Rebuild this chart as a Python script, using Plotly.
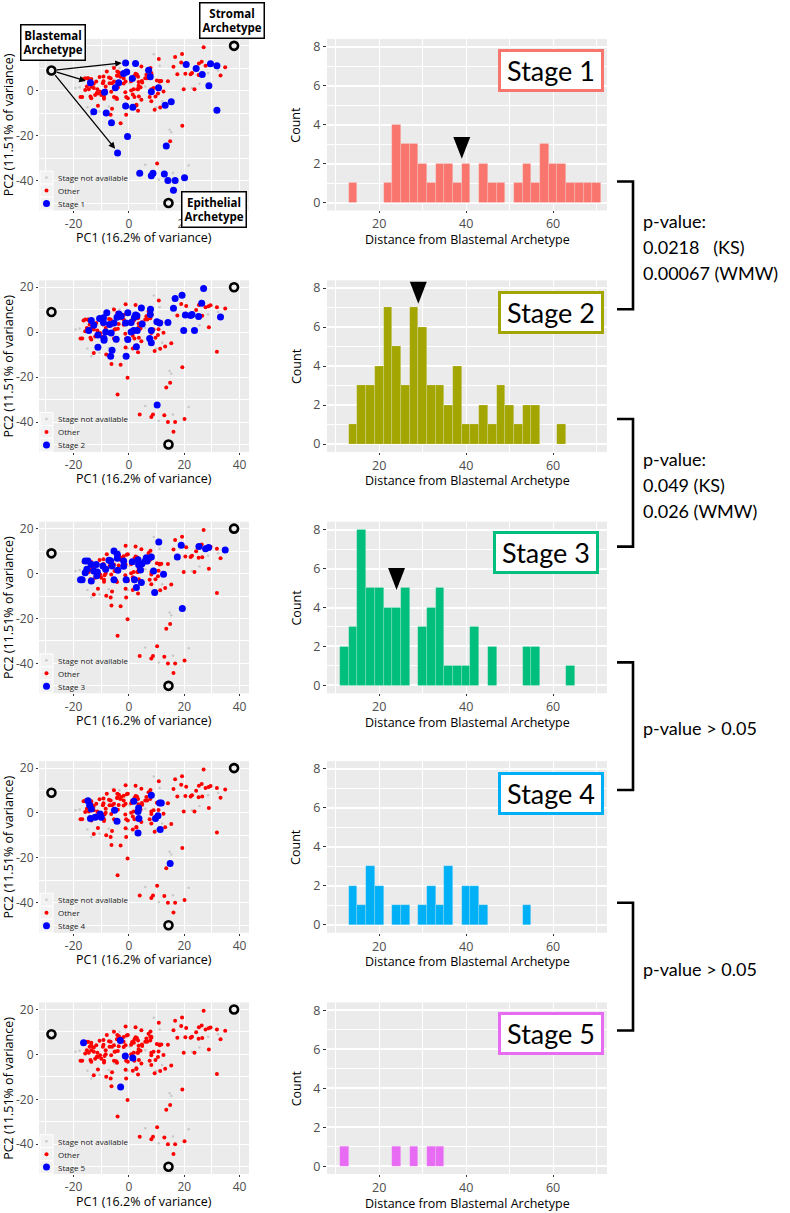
import plotly.graph_objects as go

W, H = 790, 1213
AX_FONT = "Open Sans"
LBL_FONT = "Lato"

# ---------------- data ----------------
# archetype positions (PC1, PC2): Blastemal, Stromal, Epithelial
arch_pc1 = [-28.0, 38.0, 14.3]
arch_pc2 = [9.0, 20.0, -50.0]

s1_pc1 = [-1.2, 2.4, -13.9, -8.8, -4.9, -3.7, -1.9, -0.8, 1.2, 7.1, 7.7, 8.1, 10.7, -1.2, 1.4, -12.7, -8.2,
          -6.3, -0.5, -4.1, 13.1, 15.3, 13.5, 3.9, 8.1, 8.7, 12.8, 14.1, 16.7, 16.1, 20.1, 20.7, 24.3, 26.5,
          29.5, 31.8, 28.9, 31.8]
s1_pc2 = [12.4, 12.1, 3.6, -0.7, 1.3, 3.6, 7.7, 8.4, 5.5, 9.2, 6.2, -0.4, 1.3, -6.8, -7.3, -9.3, -9.9,
          -14.2, -20.3, -27.7, -6.4, -4.9, -24.6, -36.7, -37.8, -36.7, -37.0, -40.0, -40.0, -44.3, -38.7, 11.7,
          9.9, 7.3, 12.0, 11.1, 2.2, -8.7]

s2_pc1 = [27.0, 19.2, 16.7, 26.3, 16.1, 7.8, 4.5, -8.0, -3.6, -2.8, -0.4, 2.4, 2.0, 2.9, 7.7, -13.6, -10.6,
          -9.2, -12.7, -9.2, -7.0, -5.4, -4.3, -1.2, 0.8, 4.8, 10.1, 11.1, 14.1, 20.4, 22.3, 22.8, 25.2, 33.1,
          19.8, 23.7, -14.5, -11.2, -9.0, -9.0, -8.4, -6.4, -4.6, -0.4, 0.8, 1.7, 3.0, 8.1, 7.5, 8.1, -11.2,
          2.7, -6.1, -6.6, -1.0, 10.2]
s2_pc2 = [19.4, 16.4, 15.0, 12.9, 10.7, 10.2, 10.8, 8.6, 8.1, 7.1, 8.6, 7.6, 6.7, 7.3, 7.9, 5.2, 6.1,
          6.4, 3.1, 4.3, 3.4, 4.1, 6.7, 4.1, 4.3, 3.7, 4.6, 4.1, 4.3, 7.6, 7.4, 7.9, 7.0, 6.8,
          0.7, 0.7, 0.7, -1.2, -2.8, -3.6, 0.1, -0.4, -3.1, -3.3, 0.1, 0.7, 0.7, 0.7, -2.8, -4.7, -6.7,
          -6.5, -8.0, -10.7, -10.7, -32.4]

s3_pc1 = [10.8, 18.9, 25.3, 27.7, 28.8, 34.8, 17.5, -5.4, -4.2, -6.6, -7.2, -4.2, -1.9, 1.2, 3.3, 4.7, 5.9,
          6.3, 6.6, 8.1, -15.8, -14.8, -13.6, -11.8, -9.4, -8.4, -6.1, -4.0, -1.9, -15.2, -15.8, -12.7,
          -11.4, -11.6, -16.9, -17.5, -13.6, -5.4, -1.0, 2.0, 2.7, 4.2, 3.5, 8.9, 4.5, 12.5, 9.3, 19.3]
s3_pc2 = [14.1, 12.6, 12.1, 11.1, 11.6, 10.5, 7.4, 10.1, 8.6, 5.6, 5.9, 6.8, 5.6, 5.3, 6.2, 4.4, 5.6,
          7.1, 5.6, 7.4, 5.6, 5.6, 4.1, 4.1, 3.4, 1.9, 3.4, 1.5, 3.3, 1.9, 0.4, 1.2,
          0.7, -1.0, -2.8, -2.8, -3.3, -2.8, -2.8, -2.8, -6.2, 1.6, 3.9, 1.2, -4.0, -0.3, -8.4, -15.6]

s4_pc1 = [-14.8, -14.2, -13.6, -13.9, -12.2, -10.4, -10.0, -5.2, -4.3, 1.8, 3.5, 3.3, 3.6, 3.3, 8.1, 9.6,
          10.5, 11.3, 11.1, 11.7, 14.9]
s4_pc2 = [5.5, 3.4, 1.8, -2.5, -1.9, -0.4, -1.9, 1.2, -3.7, 5.2, 2.2, 0.7, -2.5, -8.9, 7.9, -2.5,
          -1.2, -7.4, 4.4, 4.4, -22.5]

s5_pc1 = [-16.4, -3.1, -1.3, 1.4, -3.0]
s5_pc2 = [5.2, 6.2, -0.7, -1.6, -14.5]

na_pc1 = [-19.3, -17.8, -15.0, -13.6, -10.6, -7.3, -5.2, -0.4, 9.0, 11.1, 5.9, 15.3, 9.9, 14.7, 15.3, 5.9,
          10.8, 21.6, 22.8, 25.5, 28.6, 32.2, 33.4, -5.8, -3.4, 0.2, 3.3, -10.6, -16.6, 9.3, 12.0, 15.9]
na_pc2 = [1.2, 1.6, -7.3, -10.7, -9.2, -7.0, -4.0, -7.3, 16.3, 11.1, 1.9, -4.9, -7.3, -17.3, -18.5, -32.9,
          -39.6, -33.3, 1.2, 3.1, 7.9, 9.0, 7.1, 10.8, 10.1, 3.4, 2.7, -1.0, -2.5, -8.4, -4.7, -36.6]

# histogram: bins of width 2, centres 12..70
bin_centers = list(range(12, 71, 2))
s1_counts = [0, 1, 0, 0, 0, 1, 4, 3, 3, 2, 1, 2, 2, 1, 2, 0, 2, 1, 1, 0, 1, 2, 1, 3, 2, 2, 1, 1, 1, 1]
s2_counts = [0, 1, 3, 3, 4, 7, 5, 3, 7, 6, 3, 3, 2, 4, 1, 1, 2, 1, 3, 2, 1, 2, 2, 0, 0, 1, 0, 0, 0, 0]
s3_counts = [2, 3, 8, 5, 5, 4, 4, 5, 0, 3, 4, 5, 1, 1, 1, 3, 0, 2, 0, 0, 0, 2, 2, 0, 0, 0, 1, 0, 0, 0]
s4_counts = [0, 2, 1, 3, 2, 0, 1, 1, 0, 1, 2, 1, 3, 0, 2, 2, 1, 0, 0, 0, 0, 1, 0, 0, 0, 0, 0, 0, 0, 0]
s5_counts = [1, 0, 0, 0, 0, 0, 1, 0, 1, 0, 1, 1, 0, 0, 0, 0, 0, 0, 0, 0, 0, 0, 0, 0, 0, 0, 0, 0, 0, 0]

# median markers (distance, count level of tip) for stages 1-3
median_dist = [39.0, 29.0, 24.0]
median_tip = [2.25, 7.2, 4.9]

# arrows from the blastemal archetype (row 1)
arrow_pc1 = [-2.6, -15.6, -5.0]
arrow_pc2 = [12.4, 4.4, -25.8]

stage_names = ["Stage 1", "Stage 2", "Stage 3", "Stage 4", "Stage 5"]
stage_colors = ["#F8766D", "#A3A500", "#00BF7D", "#00B0F6", "#E76BF3"]
legend_labels = ["Stage not available", "Other"]

sc_xticks = [-20, 0, 20, 40]
sc_yticks = [-40, -20, 0, 20]
hi_xticks = [20, 40, 60]
hi_yticks = [0, 2, 4, 6, 8]

pvalue_lines = [["p-value:", "0.0218   (KS)", "0.00067 (WMW)"],
                ["p-value:", "0.049 (KS)", "0.026 (WMW)"],
                ["p-value > 0.05"],
                ["p-value > 0.05"]]

# ---------------- layout geometry (pixels) ----------------
row_top = [37, 279, 521, 761, 1003]
panel_h = 172
sc_x = (39, 249)
hi_x = (327, 607)
stage_box_center = [(551, 68.5), (551, 311), (546, 552), (551, 793), (551, 1034.5)]
bracket_top = [180, 418, 662, 903]
bracket_bot = [308, 546, 790, 1031]


def px(x):
    return x / W


def py(y):
    return 1 - y / H


stage_pc = [(s1_pc1, s1_pc2), (s2_pc1, s2_pc2), (s3_pc1, s3_pc2), (s4_pc1, s4_pc2), (s5_pc1, s5_pc2)]
stage_counts = [s1_counts, s2_counts, s3_counts, s4_counts, s5_counts]

fig = go.Figure()
layout = {}
annotations = []
shapes = []

grid_major = "white"
tickfont_sc = dict(family=AX_FONT, size=12, color="#4D4D4D")
tickfont_hi = dict(family=AX_FONT, size=12.5, color="#4D4D4D")

na_color, oth_color, st_color = "#C8C8C8", "#FF0000", "#0000FF"
na_size, oth_size, st_size = 2.5, 4, 7

for r in range(5):
    top = row_top[r]
    bot = top + panel_h
    dom_y = [py(bot), py(top)]
    sa, ha = 2 * r + 1, 2 * r + 2
    sx, sy = ("x" if sa == 1 else f"x{sa}"), ("y" if sa == 1 else f"y{sa}")
    hx, hy = f"x{ha}", f"y{ha}"

    # other stages -> "Other"
    oth_x, oth_y = [], []
    for k in range(5):
        if k != r:
            oth_x += stage_pc[k][0]
            oth_y += stage_pc[k][1]

    fig.add_trace(go.Scatter(x=na_pc1, y=na_pc2, mode="markers", name="Stage not available",
                             marker=dict(color=na_color, size=na_size), xaxis=sx, yaxis=sy))
    fig.add_trace(go.Scatter(x=oth_x, y=oth_y, mode="markers", name="Other",
                             marker=dict(color=oth_color, size=oth_size), xaxis=sx, yaxis=sy))
    fig.add_trace(go.Scatter(x=stage_pc[r][0], y=stage_pc[r][1], mode="markers", name=stage_names[r],
                             marker=dict(color=st_color, size=st_size), xaxis=sx, yaxis=sy))
    fig.add_trace(go.Scatter(x=arch_pc1, y=arch_pc2, mode="markers",
                             marker=dict(symbol="circle-open", color="black", size=8,
                                         line=dict(width=2.6, color="black")),
                             xaxis=sx, yaxis=sy))

    # histogram (pre-binned counts)
    fig.add_trace(go.Bar(x=bin_centers, y=stage_counts[r], width=2,
                         marker=dict(color=stage_colors[r], line=dict(width=0.6, color="rgba(255,255,255,0.3)")),
                         xaxis=hx, yaxis=hy))

    xa_key = "xaxis" if sa == 1 else f"xaxis{sa}"
    ya_key = "yaxis" if sa == 1 else f"yaxis{sa}"
    layout[xa_key] = dict(domain=[px(sc_x[0]), px(sc_x[1])], anchor=sy, range=[-32.5, 43.4],
                          tickvals=sc_xticks, ticktext=[str(v) for v in sc_xticks],
                          showgrid=True, gridcolor=grid_major, gridwidth=1.1, zeroline=False,
                          minor=dict(dtick=10, tick0=0, showgrid=True, gridcolor=grid_major, gridwidth=0.5),
                          ticks="outside", ticklen=2, tickcolor="#333333", tickfont=tickfont_sc)
    layout[ya_key] = dict(domain=dom_y, anchor=sx, range=[-53.3, 23.1],
                          tickvals=sc_yticks, ticktext=[str(v) for v in sc_yticks],
                          showgrid=True, gridcolor=grid_major, gridwidth=1.1, zeroline=False,
                          minor=dict(dtick=10, tick0=0, showgrid=True, gridcolor=grid_major, gridwidth=0.5),
                          ticks="outside", ticklen=2, tickcolor="#333333", tickfont=tickfont_sc)
    layout[f"xaxis{ha}"] = dict(domain=[px(hi_x[0]), px(hi_x[1])], anchor=hy, range=[8.0, 72.4],
                                tickvals=hi_xticks,
                                showgrid=True, gridcolor=grid_major, gridwidth=1.1, zeroline=False,
                                minor=dict(dtick=10, tick0=0, showgrid=True, gridcolor=grid_major, gridwidth=0.5),
                                ticks="outside", ticklen=2, tickcolor="#333333", tickfont=tickfont_hi)
    layout[f"yaxis{ha}"] = dict(domain=dom_y, anchor=hx, range=[-0.4, 8.4],
                                tickvals=hi_yticks,
                                showgrid=True, gridcolor=grid_major, gridwidth=1.6, zeroline=False,
                                minor=dict(dtick=1, tick0=0, showgrid=True, gridcolor=grid_major, gridwidth=0.6),
                                ticks="outside", ticklen=3, tickcolor="#333333", tickfont=tickfont_hi)

    # manual in-panel legend (ggplot style keys)
    entries = [(legend_labels[0], na_color, na_size), (legend_labels[1], oth_color, oth_size),
               (stage_names[r], st_color, st_size)]
    for i, (txt, col, sz) in enumerate(entries):
        yc = bot - 33 + 13 * i
        shapes.append(dict(type="rect", xref="paper", yref="paper", x0=px(40), x1=px(53),
                           y0=py(yc + 6.5), y1=py(yc - 6.5), fillcolor="#F2F2F2",
                           line=dict(color="white", width=1), layer="above"))
        shapes.append(dict(type="circle", xref="paper", yref="paper", xsizemode="pixel", ysizemode="pixel",
                           xanchor=px(46.5), yanchor=py(yc), x0=-sz / 2, x1=sz / 2, y0=-sz / 2, y1=sz / 2,
                           fillcolor=col, line=dict(width=0), layer="above"))
        annotations.append(dict(text=txt, x=px(56), y=py(yc), xref="paper", yref="paper", showarrow=False,
                                xanchor="left", yanchor="middle",
                                font=dict(family=AX_FONT, size=8, color="#1A1A1A")))

    # axis titles
    annotations.append(dict(text="PC2 (11.51% of variance)", x=px(8.5), y=py(top + panel_h / 2),
                            xref="paper", yref="paper", showarrow=False, textangle=-90,
                            xanchor="center", yanchor="middle", borderpad=0,
                            font=dict(family=AX_FONT, size=12.5, color="black")))
    annotations.append(dict(text="PC1 (16.2% of variance)", x=px(144), y=py(bot + 27),
                            xref="paper", yref="paper", showarrow=False, xanchor="center", yanchor="middle",
                            borderpad=0, font=dict(family=AX_FONT, size=12.5, color="black")))
    annotations.append(dict(text="Count", x=px(296), y=py(top + panel_h / 2),
                            xref="paper", yref="paper", showarrow=False, textangle=-90,
                            xanchor="center", yanchor="middle", borderpad=0,
                            font=dict(family=AX_FONT, size=12.5, color="black")))
    annotations.append(dict(text="Distance from Blastemal Archetype", x=px(467), y=py(bot + 29),
                            xref="paper", yref="paper", showarrow=False, xanchor="center", yanchor="middle",
                            borderpad=0, font=dict(family=AX_FONT, size=12.5, color="black")))

    # stage label box
    cx, cy = stage_box_center[r]
    annotations.append(dict(text=stage_names[r], x=px(cx), y=py(cy), xref="paper", yref="paper",
                            showarrow=False, xanchor="center", yanchor="middle",
                            width=98, height=35, borderpad=1, borderwidth=3,
                            bordercolor=stage_colors[r], bgcolor="white",
                            font=dict(family=LBL_FONT, size=27, color="black")))

    # median marker triangles
    if r < len(median_dist):
        m, t = median_dist[r], median_tip[r]
        hw, hh = 1.95, 1.12
        shapes.append(dict(type="path", xref=hx, yref=hy,
                           path=f"M {m - hw},{t + hh} L {m + hw},{t + hh} L {m},{t} Z",
                           fillcolor="black", line=dict(width=0)))

fig.update_traces(showlegend=False)

# arrows (row 1)
for ax_, ay_ in zip(arrow_pc1, arrow_pc2):
    annotations.append(dict(x=ax_, y=ay_, ax=arch_pc1[0], ay=arch_pc2[0], xref="x", yref="y",
                            axref="x", ayref="y", text="", showarrow=True, arrowhead=2,
                            arrowsize=1, arrowwidth=1.3, arrowcolor="black", startstandoff=4))

# archetype labels (row 1)
for txt, cx, cy in [("Blastemal<br>Archetype", 53, 41), ("Stromal<br>Archetype", 232, 19),
                    ("Epithelial<br>Archetype", 214, 208)]:
    annotations.append(dict(text=f"<b>{txt}</b>", x=px(cx), y=py(cy), xref="paper", yref="paper",
                            showarrow=False, xanchor="center", yanchor="middle", align="center",
                            bgcolor="white", bordercolor="black", borderwidth=1.5, borderpad=2,
                            font=dict(family=AX_FONT, size=11.5, color="black")))

# p-value brackets
for k in range(4):
    t, b = bracket_top[k], bracket_bot[k]
    shapes.append(dict(type="path", xref="paper", yref="paper",
                       path=f"M {px(617)},{py(t)} L {px(633)},{py(t)} L {px(633)},{py(b)} L {px(617)},{py(b)}",
                       line=dict(color="black", width=2.6)))
    lines = pvalue_lines[k]
    mid = (t + b) / 2 + 2
    for i, ln in enumerate(lines):
        yc = mid + (i - (len(lines) - 1) / 2) * 26
        annotations.append(dict(text=ln, x=px(641), y=py(yc), xref="paper",
                                yref="paper", showarrow=False, xanchor="left", yanchor="middle", align="left",
                                font=dict(family=LBL_FONT, size=18, color="black")))

fig.update_layout(**layout)
fig.update_layout(width=W, height=H, margin=dict(l=0, r=0, t=0, b=0),
                  paper_bgcolor="white", plot_bgcolor="#EBEBEB", bargap=0,
                  annotations=annotations, shapes=shapes, showlegend=False,
                  font=dict(family=AX_FONT))

fig.write_html("out.html", config={"displayModeBar": False},
               post_script="document.body.style.margin='0px';")
